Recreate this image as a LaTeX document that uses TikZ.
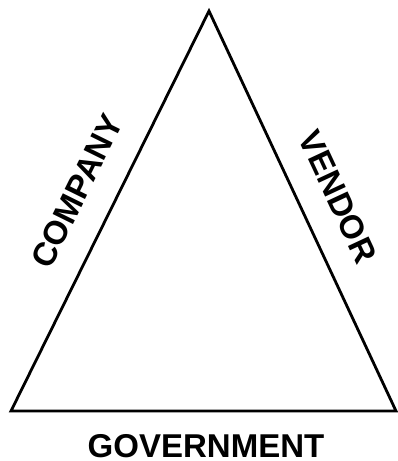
\documentclass[tikz,border=0pt]{standalone}
\usepackage{fontspec}
\setmainfont{Liberation Sans}
\begin{document}
\begin{tikzpicture}[x=1pt,y=1pt,
  lbl/.style={font=\fontsize{33}{36}\selectfont\bfseries, inner sep=0pt}]
\useasboundingbox (0,0) rectangle (398,461);
\coordinate (bl) at (11,50);
\coordinate (br) at (396,50);
\coordinate (top) at (209,450);
\draw[line width=2.8pt, line join=miter] (bl) -- (br) -- (top) -- cycle;
\node[lbl, rotate=63.7] (company) at (77,270) {COMPANY};
\node[lbl, rotate=-65] (vendor) at (338,264) {VENDOR};
\node[lbl, anchor=base] (gov) at (206,3) {GOVERNMENT};
\end{tikzpicture}
\end{document}
